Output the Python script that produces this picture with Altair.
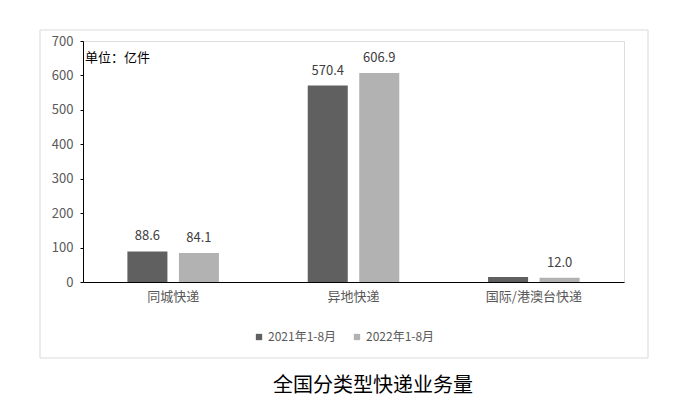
import altair as alt
import pandas as pd

categories = ["同城快递", "异地快递", "国际/港澳台快递"]
series = ["2021年1-8月", "2022年1-8月"]
v2021 = [88.6, 570.4, 14.2]
v2022 = [84.1, 606.9, 12.0]
labels2021 = ["88.6", "570.4", ""]
labels2022 = ["84.1", "606.9", "12.0"]
colors = ["#606060", "#b2b2b2"]

rows = []
for c, a, b, la, lb in zip(categories, v2021, v2022, labels2021, labels2022):
    rows.append({"cat": c, "series": series[0], "value": a, "label": la})
    rows.append({"cat": c, "series": series[1], "value": b, "label": lb})
df = pd.DataFrame(rows)

FONT = "Noto Sans CJK SC"

x = alt.X("cat:N", sort=categories, title=None,
          scale=alt.Scale(paddingInner=0, paddingOuter=0),
          axis=alt.Axis(labelAngle=0, ticks=False, labelPadding=8, labelFontSize=13,
                        labelColor="#595959", labelFont=FONT, domainColor="#000000"))
xo = alt.XOffset("series:N", sort=series,
                 scale=alt.Scale(paddingInner=0.223, paddingOuter=0.862))
y = alt.Y("value:Q", title=None,
          scale=alt.Scale(domain=[0, 700], nice=False),
          axis=alt.Axis(values=[0, 100, 200, 300, 400, 500, 600, 700], grid=False,
                        tickSize=3, tickColor="#000000", domainColor="#000000",
                        labelPadding=7, labelFontSize=13, labelColor="#595959",
                        labelFont=FONT))

base = alt.Chart(df)

bars = base.mark_bar().encode(
    x=x, xOffset=xo, y=y,
    color=alt.Color("series:N", sort=series,
                    scale=alt.Scale(domain=series, range=colors),
                    legend=alt.Legend(title=None, orient="none", direction="horizontal",
                                      legendX=170, legendY=290, symbolType="square",
                                      symbolSize=40, symbolStrokeWidth=0,
                                      labelFontSize=12, labelColor="#595959",
                                      labelFont=FONT, columnPadding=14, labelOffset=3)),
)

texts = base.mark_text(baseline="bottom", dy=-8, fontSize=13, color="#404040", font=FONT).encode(
    x=x, xOffset=xo, y=y, text="label:N"
)

border = alt.Chart(pd.DataFrame({"a": [0]})).mark_rect(
    fill=None, stroke="#d9d9d9", strokeWidth=1
).encode(x=alt.value(-43), x2=alt.value(565), y=alt.value(-11), y2=alt.value(317))

unit = alt.Chart(pd.DataFrame({"t": ["单位：亿件"]})).mark_text(
    align="left", baseline="middle", fontSize=13, color="#000000", font=FONT
).encode(x=alt.value(2), y=alt.value(17), text="t:N")

title = alt.Chart(pd.DataFrame({"t": ["全国分类型快递业务量"]})).mark_text(
    align="center", baseline="middle", fontSize=20, color="#000000", font=FONT
).encode(x=alt.value(290), y=alt.value(345), text="t:N")

chart = alt.layer(border, bars, texts, unit, title).properties(
    width=541, height=241,
    autosize=alt.AutoSizeParams(type="none"),
    padding={"left": 75, "top": 33, "right": 40, "bottom": 116},
).configure_view(stroke=None).configure(background="#ffffff")

chart.save("out.html", embed_options={"renderer": "svg", "actions": False})
